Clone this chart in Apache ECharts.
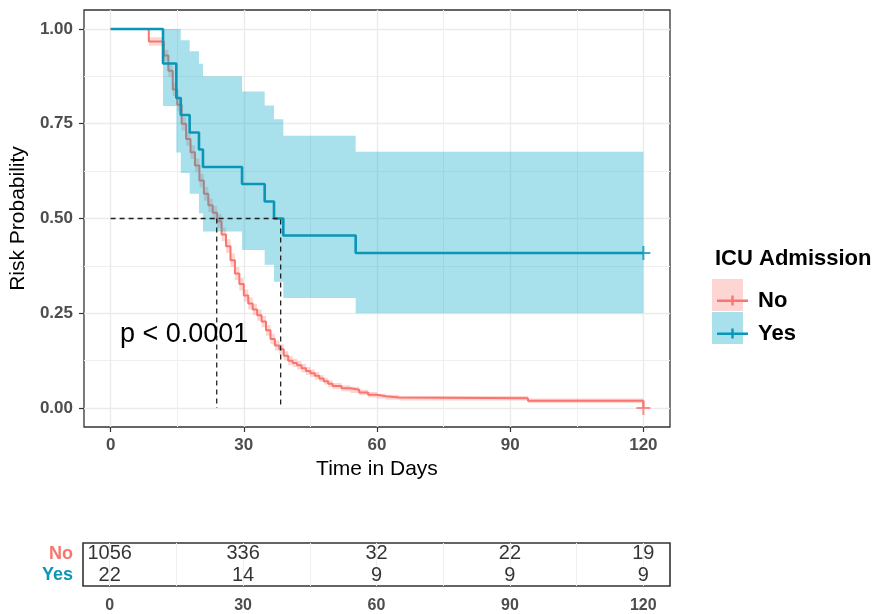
<!DOCTYPE html>
<html><head><meta charset="utf-8">
<script src="https://cdn.jsdelivr.net/npm/echarts@6/dist/echarts.min.js"></script>
<style>html,body{margin:0;padding:0;background:#fff}#c{width:879px;height:614px}</style>
</head><body><div id="c"></div>
<script>
// ---------- data ----------
const xTicks = [0, 30, 60, 90, 120];
const xMinor = [15, 45, 75, 105];
const tableGridX = [0, 15, 30, 45, 60, 75, 90, 105, 120];
const yTicks = [0, 0.25, 0.5, 0.75, 1];
const yMinor = [0.125, 0.375, 0.625, 0.875];

const noTime  = [0, 8.6, 12, 13, 14, 15, 16, 17, 18, 19, 20, 21, 22, 23, 24, 25, 26, 27, 28, 29, 30, 31, 32, 33, 34, 35, 36, 37, 38, 39, 40, 41, 42, 43, 44, 45, 46, 47, 48, 49, 50, 52, 54, 56, 58, 60, 62, 65, 94, 120];
const noSurv  = [1, .967, .93, .89, .84, .80, .75, .71, .675, .64, .60, .565, .535, .515, .493, .458, .427, .39, .355, .327, .297, .276, .26, .245, .228, .205, .182, .165, .155, .138, .125, .119, .113, .105, .098, .092, .085, .078, .071, .064, .058, .052, .048, .041, .035, .031, .028, .026, .019, 0];
const noUpper = [1, .978, .945, .906, .857, .817, .768, .728, .693, .658, .618, .583, .553, .533, .511, .476, .445, .408, .372, .344, .313, .292, .275, .26, .243, .219, .196, .178, .168, .15, .137, .13, .124, .116, .108, .102, .095, .087, .08, .073, .066, .06, .056, .048, .042, .038, .035, .032, .025, .025];
const noLower = [1, .956, .915, .874, .823, .783, .732, .692, .657, .622, .582, .547, .517, .497, .475, .44, .409, .372, .338, .31, .281, .26, .245, .23, .213, .191, .168, .152, .142, .126, .113, .108, .102, .094, .088, .082, .075, .069, .062, .055, .05, .044, .04, .034, .028, .025, .022, .02, .013, .013];

const yesTime  = [0, 11.8, 14.8, 15.8, 17.8, 19.9, 20.8, 29.6, 34.7, 36.8, 38.9, 55.2, 120];
const yesSurv  = [1, .909, .818, .773, .727, .682, .636, .591, .545, .5, .455, .409, .409];
const yesUpper = [1, 1, 1, .97, .941, .908, .875, .835, .798, .762, .718, .676, .676];
const yesLower = [1, .797, .674, .62, .565, .514, .466, .417, .378, .333, .29, .25, .25];

const medianNo = 23.9;
const medianYes = 38.3;
const censorNo = [120, 0];
const censorYes = [120, 0.409];

const riskTimes = [0, 30, 60, 90, 120];
const riskNo = [1056, 336, 32, 22, 19];
const riskYes = [22, 14, 9, 9, 9];
const groups = ['No', 'Yes'];
const pText = 'p < 0.0001';
const legendTitle = 'ICU Admission';

// ---------- styles ----------
const RED = '#F8766D';
const TEAL = '#0A96B7';
const RED_BAND = 'rgba(248,118,109,0.30)';
const TEAL_BAND = 'rgba(0,165,195,0.34)';
const GRIDC = '#EBEBEB';
const TICKC = '#4D4D4D';
const FONT = '"Liberation Sans", Arial, sans-serif';

function zip(a, b) { return a.map((v, i) => [v, b[i]]); }
function band(times, up, lo, color) {
  return function (params, api) {
    const pts = [];
    for (let i = 0; i < times.length - 1; i++) {
      pts.push(api.coord([times[i], up[i]]));
      pts.push(api.coord([times[i + 1], up[i]]));
    }
    for (let i = times.length - 2; i >= 0; i--) {
      pts.push(api.coord([times[i + 1], lo[i]]));
      pts.push(api.coord([times[i], lo[i]]));
    }
    return { type: 'polygon', shape: { points: pts }, style: { fill: color } };
  };
}
const plus = 'path://M6,0h2v6h6v2h-6v6h-2v-6h-6v-2h6z';
const legendIcon = 'path://M0,4h31v2.4h-31z M14.3,0h2.4v10h-2.4z';

const riskData = [];
riskTimes.forEach((t, i) => {
  riskData.push([t, 'No', riskNo[i]]);
  riskData.push([t, 'Yes', riskYes[i]]);
});

const chart = echarts.init(document.getElementById('c'), null, { renderer: 'canvas' });
chart.setOption({
  animation: false,
  backgroundColor: '#fff',
  textStyle: { fontFamily: FONT },
  grid: [
    { left: 83, right: 209, top: 10, bottom: 187, show: true, borderColor: '#333', borderWidth: 1.3, backgroundColor: 'transparent' },
    { left: 83, right: 209, top: 543, bottom: 28, show: true, borderColor: '#333', borderWidth: 1.6, backgroundColor: 'transparent' }
  ],
  title: {
    text: legendTitle, left: 710, top: 243,
    textStyle: { fontFamily: FONT, fontSize: 22, fontWeight: 'bold', color: '#000' }
  },
  legend: {
    orient: 'vertical', left: 712, top: 284, itemWidth: 31, itemHeight: 10, itemGap: 10,
    data: [{ name: 'No', icon: legendIcon }, { name: 'Yes', icon: legendIcon }],
    itemStyle: { borderWidth: 0 },
    textStyle: { fontFamily: FONT, fontSize: 22, fontWeight: 'bold', color: '#000', lineHeight: 23, padding: [0, 0, 0, 5] },
    selectedMode: false
  },
  graphic: [
    { type: 'rect', left: 712, top: 279, shape: { width: 31, height: 32 }, style: { fill: RED_BAND }, z: -1 },
    { type: 'rect', left: 712, top: 312, shape: { width: 31, height: 32 }, style: { fill: TEAL_BAND }, z: -1 },
    { type: 'text', left: 120, top: 321, style: { text: pText, fontFamily: FONT, fontSize: 27, fill: '#000' }, z: 10 }
  ],
  xAxis: [
    {
      gridIndex: 0, type: 'value', min: -6, max: 126, position: 'bottom',
      axisLine: { show: false, onZero: false },
      axisTick: { show: true, customValues: xTicks, length: 5, lineStyle: { color: '#333', width: 1.2 } },
      axisLabel: { customValues: xTicks, margin: 10, fontFamily: FONT, fontSize: 17, fontWeight: 'bold', color: TICKC },
      splitLine: { show: true, lineStyle: { color: GRIDC, width: 1.4 } },
      name: 'Time in Days', nameLocation: 'middle', nameGap: 31,
      nameTextStyle: { fontFamily: FONT, fontSize: 21, color: '#000' }
    },
    {
      gridIndex: 0, type: 'value', min: -6, max: 126, position: 'top',
      axisLine: { show: false, onZero: false }, axisLabel: { show: false },
      axisTick: { show: false, customValues: xMinor },
      splitLine: { show: true, lineStyle: { color: '#EFEFEF', width: 1.1 } }
    },
    {
      gridIndex: 1, type: 'value', min: -6, max: 126, position: 'bottom',
      axisLine: { show: false, onZero: false },
      axisTick: { show: false, customValues: tableGridX },
      axisLabel: { customValues: xTicks, margin: 12, fontFamily: FONT, fontSize: 16, fontWeight: 'bold', color: TICKC },
      splitLine: { show: true, lineStyle: { color: '#EFEFEF', width: 1 } }
    }
  ],
  yAxis: [
    {
      gridIndex: 0, type: 'value', min: -0.05, max: 1.05, position: 'left',
      axisLine: { show: false, onZero: false },
      axisTick: { show: true, customValues: yTicks, length: 5, lineStyle: { color: '#333', width: 1.2 } },
      axisLabel: { customValues: yTicks, margin: 11, formatter: v => v.toFixed(2), fontFamily: FONT, fontSize: 17, fontWeight: 'bold', color: TICKC },
      splitLine: { show: true, lineStyle: { color: GRIDC, width: 1.4 } },
      name: 'Risk Probability', nameLocation: 'middle', nameGap: 45, nameRotate: 90,
      nameTextStyle: { fontFamily: FONT, fontSize: 21, color: '#000' }
    },
    {
      gridIndex: 0, type: 'value', min: -0.05, max: 1.05, position: 'right',
      axisLine: { show: false, onZero: false }, axisLabel: { show: false },
      axisTick: { show: false, customValues: yMinor },
      splitLine: { show: true, lineStyle: { color: '#EFEFEF', width: 1.1 } }
    },
    {
      gridIndex: 1, type: 'category', data: groups.slice().reverse(), position: 'left',
      axisLine: { show: false, onZero: false }, axisTick: { show: false },
      splitLine: { show: false },
      axisLabel: {
        interval: 0, hideOverlap: false,
        margin: 10, fontFamily: FONT, fontSize: 18, fontWeight: 'bold',
        color: v => (v === 'No' ? RED : TEAL)
      }
    }
  ],
  series: [
    { type: 'custom', name: 'noBand', xAxisIndex: 0, yAxisIndex: 0, z: 1, silent: true,
      renderItem: band(noTime, noUpper, noLower, RED_BAND), data: [[0, 1]] },
    { type: 'line', name: 'No', xAxisIndex: 0, yAxisIndex: 0, z: 2, step: 'end',
      data: zip(noTime, noSurv), showSymbol: false, color: RED,
      lineStyle: { color: RED, width: 2 }, itemStyle: { color: RED } },
    { type: 'custom', name: 'yesBand', xAxisIndex: 0, yAxisIndex: 0, z: 3, silent: true,
      renderItem: band(yesTime, yesUpper, yesLower, TEAL_BAND), data: [[0, 1]] },
    { type: 'line', name: 'Yes', xAxisIndex: 0, yAxisIndex: 0, z: 4, step: 'end',
      data: zip(yesTime, yesSurv), showSymbol: false, color: TEAL,
      lineStyle: { color: TEAL, width: 2.6 }, itemStyle: { color: TEAL } },
    { type: 'line', name: 'medianYes', xAxisIndex: 0, yAxisIndex: 0, z: 5,
      data: [[0, 0.5], [medianYes, 0.5], [medianYes, 0]], showSymbol: false,
      lineStyle: { color: '#222', width: 1.3, type: [5, 4] } },
    { type: 'line', name: 'medianNo', xAxisIndex: 0, yAxisIndex: 0, z: 5,
      data: [[medianNo, 0.5], [medianNo, 0]], showSymbol: false,
      lineStyle: { color: '#222', width: 1.3, type: [5, 4] } },
    { type: 'scatter', name: 'censor', xAxisIndex: 0, yAxisIndex: 0, z: 6,
      symbol: plus, symbolSize: 14,
      data: [
        { value: censorNo, itemStyle: { color: RED } },
        { value: censorYes, itemStyle: { color: TEAL } }
      ] },
    { type: 'scatter', name: 'risk', xAxisIndex: 2, yAxisIndex: 2, symbolSize: 0,
      data: riskData,
      label: { show: true, position: 'inside', formatter: p => String(p.value[2]),
        fontFamily: FONT, fontSize: 20, color: '#000' } }
  ]
});
</script>
</body></html>
